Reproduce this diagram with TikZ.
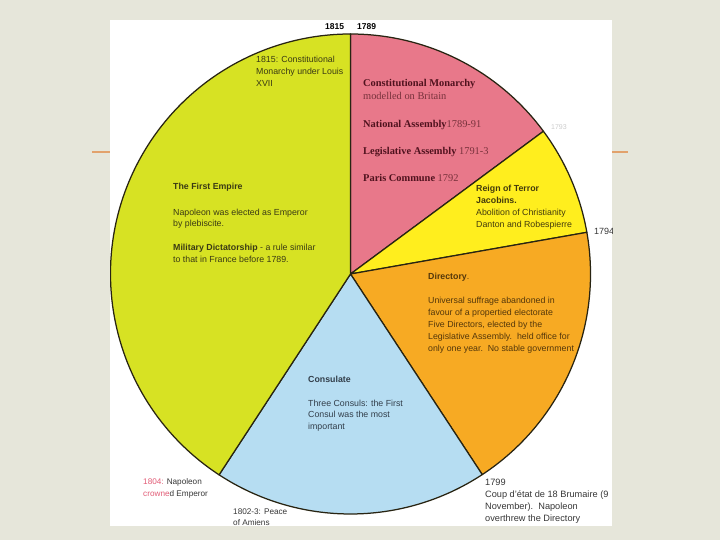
\documentclass[tikz,border=0pt]{standalone}
\usepackage{fontspec}
\setmainfont{Liberation Sans}
\newfontfamily\serifA{Liberation Serif}
\definecolor{bgc}{RGB}{230,230,218}
\definecolor{linec}{RGB}{226,162,108}
\definecolor{edgec}{RGB}{40,36,18}
\definecolor{pinkc}{RGB}{232,120,138}
\definecolor{yelc}{RGB}{255,238,30}
\definecolor{orc}{RGB}{247,170,35}
\definecolor{bluc}{RGB}{182,221,242}
\definecolor{grnc}{RGB}{215,226,35}
\definecolor{gtext}{RGB}{58,58,20}
\definecolor{ytext}{RGB}{66,58,12}
\definecolor{otext}{RGB}{84,55,10}
\definecolor{btext}{RGB}{50,62,74}
\definecolor{pbold}{RGB}{80,18,30}
\definecolor{preg}{RGB}{120,50,60}
\definecolor{outt}{RGB}{55,55,55}
\definecolor{redt}{RGB}{226,92,118}
\begin{document}
\begin{tikzpicture}[x=1pt,y=-1pt,
  slice/.style={draw=edgec, line width=1.25pt, line join=round},
  lbl/.style={anchor=base west, inner sep=0pt, font=\fontsize{8.8}{10}\selectfont},
  plbl/.style={anchor=base west, inner sep=0pt, font=\serifA\fontsize{10.4}{12}\selectfont},
  olbl/.style={anchor=base west, inner sep=0pt, text=outt, font=\fontsize{8.2}{10}\selectfont},
  tlbl/.style={anchor=base west, inner sep=0pt, font=\bfseries\fontsize{8.5}{10}\selectfont}]
\useasboundingbox (0,0) rectangle (720,540);
\fill[bgc] (0,0) rectangle (720,540);
\draw[linec, line width=1.8pt] (92,152) -- (110,152);
\draw[linec, line width=1.8pt] (612,152) -- (628,152);
\fill[white] (110,20) rectangle (612,526);
\begin{scope}
\clip (110,20) rectangle (612,526);
\coordinate (C) at (350.5,274);
\filldraw[slice, fill=pinkc] (C) -- ++(-90:240) arc[start angle=-90, end angle=-36.5, radius=240] -- cycle;
\filldraw[slice, fill=yelc] (C) -- ++(-36.5:240) arc[start angle=-36.5, end angle=-10, radius=240] -- cycle;
\filldraw[slice, fill=orc] (C) -- ++(-10:240) arc[start angle=-10, end angle=56.7, radius=240] -- cycle;
\filldraw[slice, fill=bluc] (C) -- ++(56.7:240) arc[start angle=56.7, end angle=123.2, radius=240] -- cycle;
\filldraw[slice, fill=grnc] (C) -- ++(123.2:240) arc[start angle=123.2, end angle=270, radius=240] -- cycle;

\node[tlbl] (y1815) at (325,30) {1815};
\node[tlbl] (y1789) at (357,30) {1789};
\node[lbl, text=black!20, font=\fontsize{7}{8}\selectfont] (y1793) at (551,130) {1793};
\node[olbl, font=\fontsize{9}{10}\selectfont] (y1794) at (594,235) {1794};

\node[lbl, text=gtext] (l1815a) at (256,63) {1815: Constitutional};
\node[lbl, text=gtext] (l1815b) at (256,75) {Monarchy under Louis};
\node[lbl, text=gtext] (l1815c) at (256,86.5) {XVII};

\node[lbl, text=gtext] (fe1) at (173,190) {\textbf{The First Empire}};
\node[lbl, text=gtext] (fe2) at (173,215) {Napoleon was elected as Emperor};
\node[lbl, text=gtext] (fe3) at (173,226.5) {by plebiscite.};
\node[lbl, text=gtext] (fe4) at (173,251) {\textbf{Military Dictatorship} - a rule similar};
\node[lbl, text=gtext] (fe5) at (173,262.5) {to that in France before 1789.};

\node[plbl, text=pbold] (cm1) at (363,87) {\textbf{Constitutional Monarchy}};
\node[plbl, text=preg] (cm2) at (363,100) {modelled on Britain};
\node[plbl, text=preg] (na) at (363,128) {\textcolor{pbold}{\textbf{National Assembly}}1789-91};
\node[plbl, text=preg] (la) at (363,155) {\textcolor{pbold}{\textbf{Legislative Assembly}} 1791-3};
\node[plbl, text=preg] (pc) at (363,182) {\textcolor{pbold}{\textbf{Paris Commune}} 1792};

\node[lbl, text=ytext] (rt1) at (476,191.5) {\textbf{Reign of Terror}};
\node[lbl, text=ytext] (rt2) at (476,203.5) {\textbf{Jacobins.}};
\node[lbl, text=ytext] (rt3) at (476,215) {Abolition of Christianity};
\node[lbl, text=ytext] (rt4) at (476,227) {Danton and Robespierre};

\node[lbl, text=otext] (d1) at (428,279) {\textbf{Directory}.};
\node[lbl, text=otext] (d2) at (428,303) {Universal suffrage abandoned in};
\node[lbl, text=otext] (d3) at (428,315) {favour of a propertied electorate};
\node[lbl, text=otext] (d4) at (428,327) {Five Directors, elected by the};
\node[lbl, text=otext] (d5) at (428,339) {Legislative Assembly.\ \ held office for};
\node[lbl, text=otext] (d6) at (428,351) {only one year.\ \ No stable government};

\node[lbl, text=btext] (c1) at (308,382) {\textbf{Consulate}};
\node[lbl, text=btext] (c2) at (308,406) {Three Consuls: the First};
\node[lbl, text=btext] (c3) at (308,417.5) {Consul was the most};
\node[lbl, text=btext] (c4) at (308,429) {important};

\node[olbl] (n1804a) at (143,484) {\textcolor{redt}{1804:} Napoleon};
\node[olbl] (n1804b) at (143,496) {\textcolor{redt}{crowne}d Emperor};
\node[olbl] (am1) at (233,514) {1802-3: Peace};
\node[olbl] (am2) at (233,525) {of Amiens};

\node[olbl, font=\fontsize{9.2}{10}\selectfont] (b1) at (485,485) {1799};
\node[olbl, font=\fontsize{9.2}{10}\selectfont] (b2) at (485,497) {Coup d'état de 18 Brumaire (9};
\node[olbl, font=\fontsize{9.2}{10}\selectfont] (b3) at (485,509) {November).\ \ Napoleon};
\node[olbl, font=\fontsize{9.2}{10}\selectfont] (b4) at (485,521) {overthrew the Directory};
\end{scope}
\end{tikzpicture}
\end{document}
